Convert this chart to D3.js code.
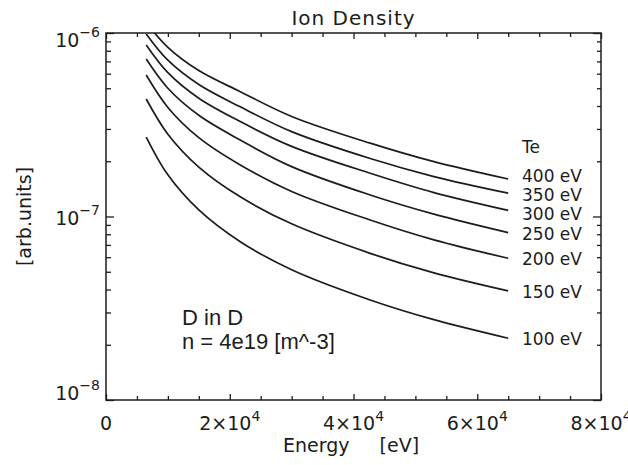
<!DOCTYPE html>
<html>
<head>
<meta charset="utf-8">
<script src="https://cdn.jsdelivr.net/npm/d3@7"></script>
<style>
  html, body { margin: 0; padding: 0; background: #fff; }
  svg { display: block; }
  text { fill: #1c1c1c; }
</style>
</head>
<body>
<svg id="chart" width="628" height="465"></svg>
<script>
// Energy grid [eV] at which each ion density curve is sampled
const energy = [6500, 10000, 15000, 21700, 30000, 42700, 53000, 65000];

// Electron temperatures of the curves [eV]
const temps = [400, 350, 300, 250, 200, 150, 100];

// Ion density [arb. units] for each temperature
const n400 = [1.14e-6, 8.35e-7, 6.24e-7, 4.79e-7, 3.51e-7, 2.51e-7, 1.99e-7, 1.60e-7];
const n350 = [9.89e-7, 7.11e-7, 5.24e-7, 3.96e-7, 2.90e-7, 2.07e-7, 1.65e-7, 1.34e-7];
const n300 = [8.61e-7, 6.08e-7, 4.41e-7, 3.29e-7, 2.41e-7, 1.72e-7, 1.35e-7, 1.08e-7];
const n250 = [7.21e-7, 5.00e-7, 3.56e-7, 2.61e-7, 1.87e-7, 1.31e-7, 1.03e-7, 8.17e-8];
const n200 = [5.90e-7, 3.93e-7, 2.69e-7, 1.91e-7, 1.37e-7, 9.57e-8, 7.46e-8, 5.92e-8];
const n150 = [4.37e-7, 2.81e-7, 1.86e-7, 1.28e-7, 9.12e-8, 6.30e-8, 4.93e-8, 3.93e-8];
const n100 = [2.71e-7, 1.687e-7, 1.086e-7, 7.29e-8, 5.13e-8, 3.51e-8, 2.74e-8, 2.17e-8];

// Axis ticks
const xMajor = [0, 20000, 40000, 60000, 80000];
const xMajorLabels = [["0", ""], ["2×10", "4"], ["4×10", "4"], ["6×10", "4"], ["8×10", "4"]];
const yMajor = [1e-8, 1e-7, 1e-6];
const yMajorLabels = [["10", "−8"], ["10", "−7"], ["10", "−6"]];

const series = [n400, n350, n300, n250, n200, n150, n100];

const svg = d3.select("#chart");
const ink = "#1c1c1c";
const plotL = 106, plotR = 601, plotT = 33, plotB = 400;

const x = d3.scaleLinear().domain([0, 80000]).range([plotL, plotR]);
const y = d3.scaleLog().domain([1e-8, 1e-6]).range([plotB, plotT]);

const xMinor = d3.range(0, 80001, 5000).filter(v => !xMajor.includes(v));
const yMinor = [];
[1e-8, 1e-7].forEach(d => { for (let k = 2; k <= 9; k++) yMinor.push(d * k); });

// Clip the curves to the plot frame
svg.append("clipPath").attr("id", "plotclip")
  .append("rect").attr("x", plotL).attr("y", plotT)
  .attr("width", plotR - plotL).attr("height", plotB - plotT);

// Inward ticks on all four sides
function tickGroup(axis, tx, ty) {
  const g = svg.append("g").attr("transform", `translate(${tx},${ty})`).call(axis);
  g.select(".domain").remove();
  g.selectAll("text").remove();
  g.selectAll("line").attr("stroke", ink).attr("stroke-width", 1.3);
  return g;
}
tickGroup(d3.axisBottom(x).tickValues(xMajor).tickSize(-6), 0, plotB);
tickGroup(d3.axisBottom(x).tickValues(xMinor).tickSize(-4), 0, plotB);
tickGroup(d3.axisTop(x).tickValues(xMajor).tickSize(-6), 0, plotT);
tickGroup(d3.axisTop(x).tickValues(xMinor).tickSize(-4), 0, plotT);
tickGroup(d3.axisLeft(y).tickValues(yMajor).tickSize(-8), plotL, 0);
tickGroup(d3.axisLeft(y).tickValues(yMinor).tickSize(-5), plotL, 0);
tickGroup(d3.axisRight(y).tickValues(yMajor).tickSize(-8), plotR, 0);
tickGroup(d3.axisRight(y).tickValues(yMinor).tickSize(-4), plotR, 0);

// Frame
svg.append("rect")
  .attr("x", plotL).attr("y", plotT)
  .attr("width", plotR - plotL).attr("height", plotB - plotT)
  .attr("fill", "none").attr("stroke", ink).attr("stroke-width", 1.5);

// Curves
const line = d3.line()
  .x((d, i) => x(energy[i]))
  .y(d => y(d))
  .curve(d3.curveCatmullRom.alpha(0.5));

svg.append("g").attr("clip-path", "url(#plotclip)")
  .selectAll("path").data(series).join("path")
  .attr("d", line)
  .attr("fill", "none")
  .attr("stroke", ink)
  .attr("stroke-width", 1.7);

const hershey = "DejaVu Sans, sans-serif";

// Curve labels at the right-hand ends, spread apart so they do not collide
const minGap = 19;
let groups = series.map(s => ({ center: y(s[s.length - 1]) + 7, n: 1 }));
let merged = true;
while (merged) {
  merged = false;
  for (let i = 0; i < groups.length - 1; i++) {
    const a = groups[i], b = groups[i + 1];
    const aBottom = a.center + (a.n - 1) * minGap / 2;
    const bTop = b.center - (b.n - 1) * minGap / 2;
    if (bTop - aBottom < minGap) {
      const n = a.n + b.n;
      const center = (a.center * a.n + b.center * b.n) / n;
      groups.splice(i, 2, { center, n });
      merged = true;
      break;
    }
  }
}
const labelY = [];
groups.forEach(g => {
  for (let k = 0; k < g.n; k++) labelY.push(g.center + (k - (g.n - 1) / 2) * minGap);
});

svg.append("text")
  .attr("x", 522).attr("y", 153)
  .attr("font-family", hershey).attr("font-size", 17)
  .text("Te");
svg.selectAll("text.tlabel").data(temps).join("text")
  .attr("class", "tlabel")
  .attr("x", 522)
  .attr("y", (t, i) => labelY[i])
  .attr("font-family", hershey).attr("font-size", 17)
  .text(t => `${t} eV`);

// X tick labels
xMajor.forEach((v, i) => {
  const t = svg.append("text")
    .attr("x", x(v)).attr("y", 430)
    .attr("text-anchor", "middle")
    .attr("font-family", hershey).attr("font-size", 19);
  t.append("tspan").text(xMajorLabels[i][0]);
  if (xMajorLabels[i][1]) {
    t.append("tspan").attr("dy", -9).attr("font-size", 14).text(xMajorLabels[i][1]);
  }
});

// Y tick labels
const yLabelShift = [0, 8.5, 14];
yMajor.forEach((v, i) => {
  const t = svg.append("text")
    .attr("x", 100).attr("y", y(v) + yLabelShift[i])
    .attr("text-anchor", "end")
    .attr("font-family", hershey).attr("font-size", 19);
  t.append("tspan").text(yMajorLabels[i][0]);
  t.append("tspan").attr("dy", -10).attr("font-size", 14).text(yMajorLabels[i][1]);
});

// Title
svg.append("text")
  .attr("x", (plotL + plotR) / 2).attr("y", 25)
  .attr("text-anchor", "middle")
  .attr("font-family", hershey).attr("font-size", 20)
  .attr("letter-spacing", 1)
  .text("Ion Density");

// Axis titles
const xt = svg.append("text")
  .attr("x", 283).attr("y", 452)
  .attr("font-family", hershey).attr("font-size", 19);
xt.append("tspan").text("Energy");
xt.append("tspan").attr("dx", 30).text("[eV]");

svg.append("text")
  .attr("transform", `translate(31,${(plotT + plotB) / 2}) rotate(-90)`)
  .attr("text-anchor", "middle")
  .attr("font-family", hershey).attr("font-size", 19)
  .text("[arb.units]");

// Case annotation
svg.append("text")
  .attr("x", 182).attr("y", 325)
  .attr("font-family", "Liberation Sans, Arial, sans-serif").attr("font-size", 22)
  .text("D in D");
svg.append("text")
  .attr("x", 182).attr("y", 349)
  .attr("font-family", "Liberation Sans, Arial, sans-serif").attr("font-size", 22)
  .text("n = 4e19 [m^-3]");
</script>
</body>
</html>
